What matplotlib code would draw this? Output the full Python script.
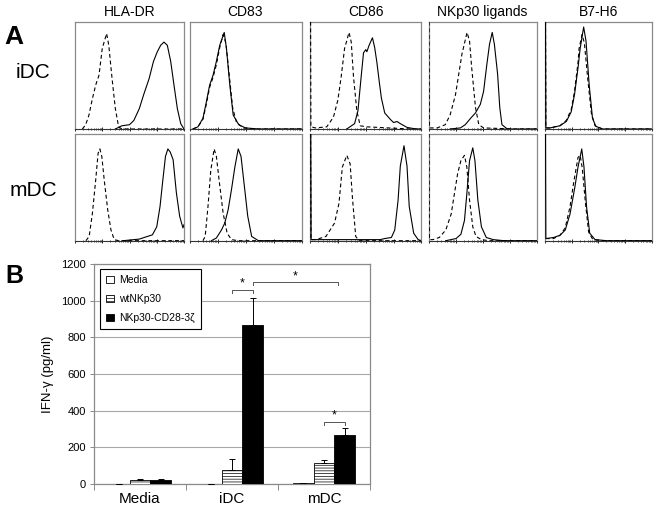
import matplotlib
matplotlib.use('Agg')
import matplotlib.pyplot as plt
from matplotlib.patches import Patch
import numpy as np

plt.rcParams['font.family'] = ['Liberation Sans', 'DejaVu Sans']
plt.rcParams['hatch.linewidth'] = 0.5

# ---- panel A: flow histograms, x = % of log axis, y = % of panel height ----
markers = ['HLA-DR', 'CD83', 'CD86', 'NKp30 ligands', 'B7-H6']
cell_types = ['iDC', 'mDC']

hla_idc_iso = [(6.7, 0), (9.8, 4), (12.8, 13), (15.9, 28), (19, 41), (22, 50), (25, 75), (29, 89), (31, 78),
               (34, 47), (37, 19), (40, 2), (43, 0), (100, 0)]
hla_idc_stain = [(37, 0), (43, 3), (50, 4), (54, 8), (59, 19), (63, 32), (68, 47), (72, 63), (75.5, 72),
                 (78.6, 78), (81.6, 81), (84.7, 78), (87.8, 63), (90.8, 41), (93.9, 19), (97, 5), (100, 0)]
cd83_idc_iso = [(3, 0), (7.5, 2), (12, 9), (15, 23), (18, 39), (21, 48), (24, 60), (27, 76), (30, 88),
                (32.5, 80), (35.5, 50), (38.5, 20), (42, 6), (48, 1), (60, 0), (100, 0)]
cd83_idc_stain = [(3, 0), (7.5, 2), (12, 10), (15, 25), (18, 41), (21, 50), (24, 63), (27, 78), (31, 90),
                  (33, 75), (36, 41), (39, 13), (44, 4), (50, 1), (62, 0), (100, 0)]
cd86_idc_iso = [(0.5, 100), (0.8, 2), (5, 1), (15, 2), (21, 11), (25, 27), (28, 49), (31, 75), (35, 90),
                (37, 81), (39, 49), (42, 17), (45, 3), (51, 2), (90, 0), (100, 0)]
cd86_idc_stain = [(33, 0), (40, 5), (43, 17), (46, 50), (48, 71), (50, 74), (51, 72), (53, 78), (56, 85),
                  (58, 76), (60, 62), (62, 45), (64, 29), (67, 15), (72, 9), (75, 6), (78, 7), (81, 5),
                  (87, 1.5), (95, 0), (100, 0)]
nkp_idc_iso = [(0.5, 100), (0.8, 1), (8, 1), (15.5, 4), (20, 13), (25, 32), (28, 51), (31, 70), (35.7, 90),
               (38, 82), (40, 57), (43.5, 20), (46.6, 4), (51, 1), (80, 0), (100, 0)]
nkp_idc_stain = [(20, 0), (29.5, 1), (34, 4), (39, 10), (43.5, 15), (48, 23), (51, 35), (54, 60), (56.5, 79),
                 (59, 90), (61, 79), (64, 51), (66, 20), (68, 4), (73, 0), (100, 0)]
b7_idc_iso = [(0.5, 100), (0.8, 1), (4.6, 1), (14, 3), (20, 8), (24.6, 18), (27.7, 35), (31, 62), (32, 75),
              (34.8, 88), (37, 80), (40, 48), (43.5, 15), (47, 3), (54, 0), (100, 0)]
b7_idc_stain = [(0.5, 100), (0.8, 1), (4.6, 1), (14, 3), (20, 7), (24.6, 16), (27.7, 32), (31, 57), (33, 75),
                (36.3, 95), (38.5, 82), (41.5, 41), (44.6, 10), (47.7, 2.5), (54, 0), (100, 0)]

hla_mdc_iso = [(10, 0), (13, 4), (16, 26), (19, 57), (21.2, 82), (22.8, 86), (24.6, 79), (26.8, 57), (30, 29),
               (33, 10), (36, 1), (40, 0), (100, 0)]
hla_mdc_stain = [(44, 0), (59, 1.5), (65, 3.5), (71, 5.5), (75, 13), (78, 32), (80.6, 57), (83, 79),
                 (85.2, 86), (87.4, 83), (90, 76), (93, 45), (96, 23), (99, 12), (100, 15)]
cd83_mdc_iso = [(12, 0), (14, 4), (16.5, 32), (19, 66), (22, 86), (24, 79), (26.4, 57), (30, 26), (33.6, 7),
                (37.5, 1), (43.5, 0), (100, 0)]
cd83_mdc_stain = [(19.5, 0), (24, 2.5), (28.5, 10), (31.5, 16.5), (34.5, 29), (37.5, 48), (40.5, 69),
                  (43.5, 86), (46, 79), (49, 51), (52, 23), (55.5, 4), (61.5, 0), (100, 0)]
cd86_mdc_iso = [(0.5, 100), (0.8, 1), (5.4, 1), (14.3, 4), (22, 16.5), (26, 35), (29, 69), (33, 80), (36, 72),
                (38, 41), (41, 4), (44, 0), (100, 0)]
cd86_mdc_stain = [(0.7, 100), (1, 1), (30, 1), (63, 1), (67, 2), (73, 3), (76, 10), (79, 38), (81, 70),
                  (84.3, 89), (87, 70), (89, 32), (93, 7), (97, 1), (100, 0)]
nkp_mdc_iso = [(0.5, 100), (0.8, 1), (4, 1), (10, 3), (16, 10), (21, 25), (24, 44), (27, 63), (30, 75),
               (33.3, 80), (35.5, 69), (38, 38), (41, 13), (44, 4), (49, 1), (56, 0), (100, 0)]
nkp_mdc_stain = [(16, 0), (25.5, 2), (30, 6), (33.3, 19), (35.5, 44), (38, 75), (41, 87), (43, 75),
                 (45.7, 38), (49, 13), (53.5, 3), (60, 1), (70, 0), (100, 0)]
b7_mdc_iso = [(0.8, 2), (8, 2), (14, 5), (19, 12), (23.5, 32), (27, 55), (31, 78), (33, 80), (35, 68),
              (38, 35), (41, 8), (45, 1), (55, 0), (100, 0)]
b7_mdc_stain = [(0.5, 100), (0.8, 2), (8, 3), (14, 5), (19, 10), (23.5, 25), (28, 50), (31, 69), (34.5, 86),
                (36.6, 69), (39, 32), (42, 7), (47, 1), (58, 0), (100, 0)]

iso_curves = [[hla_idc_iso, cd83_idc_iso, cd86_idc_iso, nkp_idc_iso, b7_idc_iso],
              [hla_mdc_iso, cd83_mdc_iso, cd86_mdc_iso, nkp_mdc_iso, b7_mdc_iso]]
stain_curves = [[hla_idc_stain, cd83_idc_stain, cd86_idc_stain, nkp_idc_stain, b7_idc_stain],
                [hla_mdc_stain, cd83_mdc_stain, cd86_mdc_stain, nkp_mdc_stain, b7_mdc_stain]]

# ---- panel B: IFN-gamma ----
groups = ['Media', 'iDC', 'mDC']
series = ['Media', 'wtNKp30', 'NKp30-CD28-3ζ']
media_vals = [1, 2, 4]
wt_vals = [22, 77, 113]
car_vals = [22, 870, 270]
media_err = [0, 0, 1]
wt_err = [3, 58, 18]
car_err = [3, 145, 33]

W, H = 657, 512
fig = plt.figure(figsize=(6.57, 5.12), dpi=100)


def box(l, t, r, b):
    return [l / W, 1 - b / H, (r - l) / W, (b - t) / H]


col_px = [(75, 184), (189.5, 301.5), (310, 421.5), (428.5, 536.5), (545, 651.5)]
row_px = [(21.7, 129), (134, 240.7)]

major = [0, 25, 50, 75, 100]
minor = [25 * (d + np.log10(k)) for d in range(4) for k in range(2, 10)]

for r, (t, b) in enumerate(row_px):
    for c, (l, rr) in enumerate(col_px):
        ax = fig.add_axes(box(l, t, rr, b))
        iso = iso_curves[r][c]
        st = stain_curves[r][c]
        ax.plot([p[0] for p in st], [p[1] for p in st], color='k', lw=0.8, zorder=3)
        ax.plot([p[0] for p in iso], [p[1] for p in iso], color='k', lw=0.8, ls=(0, (3.5, 2.5)), zorder=3)
        ax.set_xlim(0, 100)
        ax.set_ylim(0, 100)
        ax.set_yticks([])
        ax.set_xticks(major)
        ax.set_xticks(minor, minor=True)
        ax.tick_params(axis='x', which='major', direction='inout', length=3, width=0.6, labelbottom=False)
        ax.tick_params(axis='x', which='minor', direction='inout', length=1.6, width=0.5)
        for s in ['top', 'left', 'right']:
            ax.spines[s].set_color('#8a8a8a')
            ax.spines[s].set_linewidth(0.9)
        ax.spines['bottom'].set_color('#333333')
        ax.spines['bottom'].set_linewidth(0.8)
        if r == 0:
            fig.text((l + rr) / 2 / W, 1 - 12 / H, markers[c], fontsize=10, ha='center', va='center')

fig.text(33 / W, 1 - 72 / H, cell_types[0], fontsize=15, ha='center', va='center')
fig.text(33 / W, 1 - 190 / H, cell_types[1], fontsize=15, ha='center', va='center')
fig.text(4 / W, 1 - 37 / H, 'A', fontsize=19, fontweight='bold', va='center')
fig.text(5 / W, 1 - 276 / H, 'B', fontsize=18, fontweight='bold', va='center')

# ---- panel B ----
axB = fig.add_axes(box(94, 264, 370, 484))
x = np.arange(len(groups))
w = 0.225
axB.bar(x - w, media_vals, w, color='white', edgecolor='k', lw=0.6, zorder=3)
axB.bar(x, wt_vals, w, color='white', edgecolor='k', lw=0.6, hatch='------', zorder=3)
axB.bar(x + w, car_vals, w, color='k', edgecolor='k', lw=0.6, zorder=3)
zeros = [0, 0, 0]
for xs, vals, err in [(x - w, media_vals, media_err), (x, wt_vals, wt_err), (x + w, car_vals, car_err)]:
    axB.errorbar(xs, vals, yerr=[zeros, err], fmt='none', ecolor='k', elinewidth=0.7,
                 capsize=2.5, capthick=0.7, zorder=4)

axB.set_xlim(-0.5, 2.5)
axB.set_ylim(0, 1200)
axB.set_yticks(range(0, 1201, 200))
axB.yaxis.grid(True, color='#a8a8a8', lw=0.8, zorder=0)
axB.set_axisbelow(True)
axB.set_xticks([-0.5, 0.5, 1.5, 2.5])
axB.set_xticklabels([])
axB.set_xticks(x, minor=True)
axB.set_xticklabels(groups, minor=True, fontsize=11)
axB.tick_params(axis='x', which='major', direction='out', length=4, width=0.7, color='#8a8a8a')
axB.tick_params(axis='x', which='minor', length=0, pad=6)
axB.tick_params(axis='y', direction='out', length=3, width=0.7, color='#8a8a8a', labelsize=8, pad=3)
for s in axB.spines.values():
    s.set_color('#8a8a8a')
    s.set_linewidth(0.9)
axB.set_ylabel('IFN-γ (pg/ml)', fontsize=9.5)
axB.yaxis.set_label_coords(-0.145, 0.5)

# significance brackets
br = '#555555'
axB.plot([1.0, 1.0, 1.225, 1.225], [1040, 1060, 1060, 1040], color=br, lw=0.7)
axB.text(1.11, 1062, '*', ha='center', va='bottom', fontsize=9)
axB.plot([1.225, 1.225, 2.155, 2.155], [1083, 1103, 1103, 1083], color=br, lw=0.7)
axB.text(1.69, 1100, '*', ha='center', va='bottom', fontsize=9)
axB.plot([2.0, 2.0, 2.225, 2.225], [320, 340, 340, 320], color=br, lw=0.7)
axB.text(2.11, 342, '*', ha='center', va='bottom', fontsize=9)

handles = [Patch(facecolor='white', edgecolor='k', lw=0.6),
           Patch(facecolor='white', edgecolor='k', lw=0.6, hatch='-----'),
           Patch(facecolor='k', edgecolor='k', lw=0.6)]
leg = axB.legend(handles, series, loc='upper left', bbox_to_anchor=(0.022, 0.977), borderaxespad=0,
                 fontsize=7.5, fancybox=False, edgecolor='k', framealpha=1, handlelength=0.75,
                 handleheight=0.75, handletextpad=0.45, labelspacing=0.85, borderpad=0.6)
leg.get_frame().set_linewidth(0.8)

fig.savefig('out.png', dpi=100)
